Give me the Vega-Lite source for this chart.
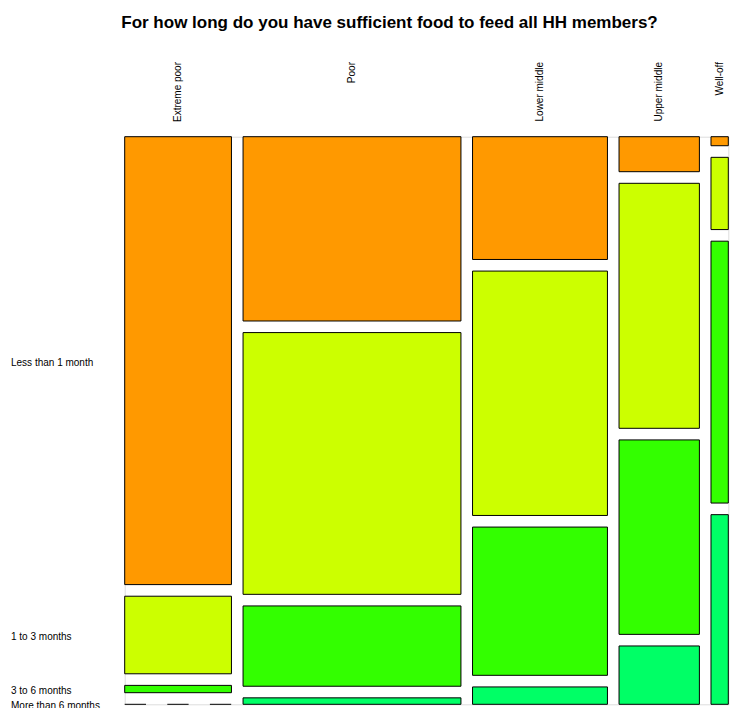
{
  "$schema": "https://vega.github.io/schema/vega-lite/v6.json",
  "autosize": "none",
  "padding": {"left": 124.7, "top": 136.7, "right": 10.7, "bottom": 3.7},
  "width": 603.6,
  "height": 567.6,
  "title": {
    "text": "For how long do you have sufficient food to feed all HH members?",
    "font": "Liberation Sans",
    "fontSize": 17,
    "fontWeight": "bold",
    "color": "#000000",
    "anchor": "middle",
    "frame": "group",
    "dx": -37,
    "offset": 30
  },
  "data": {
    "values": [
      {"class": "Extreme poor", "duration": "Less than 1 month", "count": 306},
      {"class": "Extreme poor", "duration": "1 to 3 months", "count": 53},
      {"class": "Extreme poor", "duration": "3 to 6 months", "count": 5},
      {"class": "Extreme poor", "duration": "More than 6 months", "count": 0},
      {"class": "Poor", "duration": "Less than 1 month", "count": 257},
      {"class": "Poor", "duration": "1 to 3 months", "count": 365},
      {"class": "Poor", "duration": "3 to 6 months", "count": 112},
      {"class": "Poor", "duration": "More than 6 months", "count": 9},
      {"class": "Lower middle", "duration": "Less than 1 month", "count": 106},
      {"class": "Lower middle", "duration": "1 to 3 months", "count": 211},
      {"class": "Lower middle", "duration": "3 to 6 months", "count": 128},
      {"class": "Lower middle", "duration": "More than 6 months", "count": 15},
      {"class": "Upper middle", "duration": "Less than 1 month", "count": 18},
      {"class": "Upper middle", "duration": "1 to 3 months", "count": 126},
      {"class": "Upper middle", "duration": "3 to 6 months", "count": 100},
      {"class": "Upper middle", "duration": "More than 6 months", "count": 30},
      {"class": "Well-off", "duration": "Less than 1 month", "count": 1},
      {"class": "Well-off", "duration": "1 to 3 months", "count": 8},
      {"class": "Well-off", "duration": "3 to 6 months", "count": 29},
      {"class": "Well-off", "duration": "More than 6 months", "count": 21}
    ]
  },
  "transform": [
    {"calculate": "indexof(['Extreme poor','Poor','Lower middle','Upper middle','Well-off'], datum.class)", "as": "ci"},
    {"calculate": "indexof(['Less than 1 month','1 to 3 months','3 to 6 months','More than 6 months'], datum.duration)", "as": "di"},
    {"joinaggregate": [{"op": "sum", "field": "count", "as": "N"}]},
    {"stack": "count", "groupby": [], "sort": [{"field": "ci"}, {"field": "di"}], "as": ["gx0", "gx1"]},
    {"joinaggregate": [{"op": "min", "field": "gx0", "as": "cs"}, {"op": "max", "field": "gx1", "as": "ce"}], "groupby": ["class"]},
    {"stack": "count", "groupby": ["class"], "sort": [{"field": "di"}], "offset": "normalize", "as": ["fy0", "fy1"]},
    {"calculate": "datum.cs / datum.N * 557.2 + datum.ci * 11.6", "as": "xa"},
    {"calculate": "datum.ce / datum.N * 557.2 + datum.ci * 11.6", "as": "xb"},
    {"calculate": "datum.fy0 * 532.8 + datum.di * 11.6", "as": "ya"},
    {"calculate": "datum.fy1 * 532.8 + datum.di * 11.6", "as": "yb"},
    {"calculate": "(datum.xa + datum.xb) / 2", "as": "xm"},
    {"calculate": "(datum.ya + datum.yb) / 2", "as": "ym"}
  ],
  "layer": [
    {
      "transform": [{"filter": "datum.count > 0"}],
      "mark": {"type": "rect", "stroke": "#000000", "strokeWidth": 1},
      "encoding": {
        "x": {"field": "xa", "type": "quantitative", "scale": {"domain": [0, 603.6], "nice": false, "zero": false}, "axis": null},
        "x2": {"field": "xb"},
        "y": {"field": "ya", "type": "quantitative", "scale": {"domain": [0, 567.6], "nice": false, "zero": false, "reverse": true}, "axis": null},
        "y2": {"field": "yb"},
        "fill": {
          "field": "duration",
          "type": "nominal",
          "scale": {
            "domain": ["Less than 1 month", "1 to 3 months", "3 to 6 months", "More than 6 months"],
            "range": ["#FF9900", "#CCFF00", "#33FF00", "#00FF66"]
          },
          "legend": null
        }
      }
    },
    {
      "transform": [{"filter": "datum.count == 0"}],
      "mark": {"type": "rule", "color": "#000000", "strokeWidth": 1, "strokeDash": [21.3, 21.3]},
      "encoding": {
        "x": {"field": "xa", "type": "quantitative"},
        "x2": {"field": "xb"},
        "y": {"field": "ya", "type": "quantitative"}
      }
    },
    {
      "transform": [{"filter": "datum.di == 0"}],
      "mark": {"type": "text", "angle": 270, "align": "right", "baseline": "middle", "font": "Liberation Sans", "fontSize": 10, "color": "#000000"},
      "encoding": {
        "x": {"field": "xm", "type": "quantitative"},
        "y": {"datum": -74.7},
        "text": {"field": "class"}
      }
    },
    {
      "transform": [{"filter": "datum.ci == 0"}],
      "mark": {"type": "text", "align": "left", "baseline": "middle", "dy": 2, "font": "Liberation Sans", "fontSize": 10, "color": "#000000"},
      "encoding": {
        "x": {"datum": -113.7},
        "y": {"field": "ym", "type": "quantitative"},
        "text": {"field": "duration"}
      }
    }
  ]
}
